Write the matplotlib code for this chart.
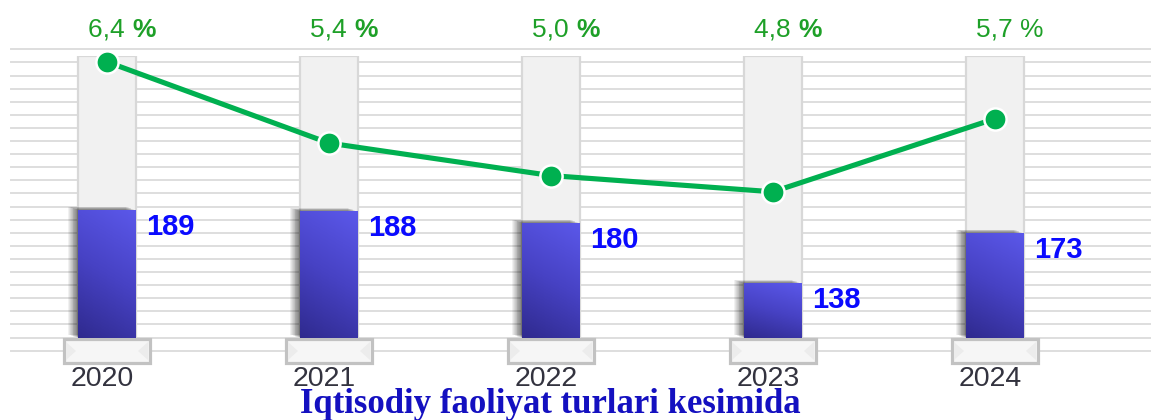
import numpy as np
import matplotlib
matplotlib.use("Agg")
import matplotlib.pyplot as plt
from matplotlib.colors import LinearSegmentedColormap
from matplotlib.patches import Rectangle
import matplotlib.transforms as mtransforms

# ---- data ----
years = ["2020", "2021", "2022", "2023", "2024"]
counts = [189, 188, 180, 138, 173]
growth = [6.4, 5.4, 5.0, 4.8, 5.7]
growth_labels = ["6,4", "5,4", "5,0", "4,8", "5,7"]
bold_pct = [True, True, True, True, False]
title = "Iqtisodiy faoliyat turlari kesimida"

W, H, DPI = 1151, 420, 100
fig = plt.figure(figsize=(W / DPI, H / DPI), dpi=DPI)
fig.patch.set_facecolor("white")

x = np.arange(len(years))
XL = (-0.482, 4.703)          # category axis range
px_per_unit = W / (XL[1] - XL[0])
bar_w = 58 / px_per_unit
ped_w = 86 / px_per_unit

sans = "Liberation Sans"
serif = "Liberation Serif"

# ---- background layer (layout in pixel units, y downwards) ----
ax_bg = fig.add_axes([0, 0, 1, 1])
ax_bg.set_xlim(*XL)
ax_bg.set_ylim(H, 0)
ax_bg.axis("off")

for k in range(24):
    ax_bg.axhline(49.3 + 13.1 * k, xmin=11 / W, xmax=1, color="#dedede",
                  lw=1.4, zorder=0)

# pedestals under each column
for xi in x:
    ax_bg.add_patch(Rectangle((xi - ped_w / 2, 339), ped_w, 24,
                              facecolor="#f6f6f6", edgecolor="#c2c2c2",
                              lw=2.3, zorder=5))
    # subtle bevel at both ends
    for side in (-1, 1):
        xe = xi + side * (ped_w / 2 - 2 / px_per_unit)
        xin = xi + side * (ped_w / 2 - 12 / px_per_unit)
        ax_bg.fill([xe, xin, xe], [342, 351, 360], color="#ececec",
                   lw=0, zorder=5)

for xi, yr in zip(x, years):
    ax_bg.text(xi - 5 / px_per_unit, 386, yr, ha="center", va="baseline",
               fontsize=20.5, color="#33333f", family=sans, zorder=6)

ax_bg.text(550 / px_per_unit + XL[0], 413, title, ha="center",
           va="baseline", fontsize=25, fontweight="bold",
           color="#1410c0", family=serif, zorder=6)

# ---- bar layer ----
base_px, top_px = 338, 56
scale = 1.44                 # pixels per count
ylo = 100
yhi = ylo + (base_px - top_px) / scale
ax_bar = fig.add_axes([0, (H - base_px) / H, 1, (base_px - top_px) / H])
ax_bar.set_xlim(*XL)
ax_bar.set_ylim(ylo, yhi)
ax_bar.axis("off")
ax_bar.patch.set_alpha(0)

# light full-height columns
ax_bar.bar(x, yhi - ylo, bottom=ylo, width=bar_w, color="#f1f1f1",
           edgecolor="#d8d8d8", linewidth=1.6, zorder=1)

# soft shadow on the left of each bar
for i in range(1, 12):
    off = mtransforms.offset_copy(ax_bar.transData, fig=fig,
                                  x=-i * 0.9, y=i * 0.3, units="dots")
    for xi, v in zip(x, counts):
        ax_bar.add_patch(Rectangle((xi - bar_w / 2, ylo), bar_w, v - ylo,
                                   transform=off, facecolor="black",
                                   alpha=0.055, lw=0, zorder=2))

cmap = LinearSegmentedColormap.from_list(
    "blue", ["#2f2a8e", "#4742c4", "#5b58ea"])
gy, gx = np.mgrid[0:1:200j, 0:1:50j]
grad = np.clip(0.78 * gy + 0.22 * gx + 0.0, 0, 1)

bars = ax_bar.bar(x, counts, width=bar_w, color="none", lw=0, zorder=3)
for b, xi, v in zip(bars, x, counts):
    im = ax_bar.imshow(grad, cmap=cmap, origin="lower", aspect="auto",
                       extent=(xi - bar_w / 2, xi + bar_w / 2, ylo, v),
                       zorder=3, vmin=0, vmax=1)
    im.set_clip_path(b)
    ax_bar.annotate(str(v), xy=(xi + bar_w / 2, v), xytext=(7, -2),
                    textcoords="offset points", ha="left", va="top",
                    fontsize=21, fontweight="bold", color="#0a0aff",
                    family=sans, zorder=6)
ax_bar.set_xlim(*XL)
ax_bar.set_ylim(ylo, yhi)

# ---- growth line layer ----
ax_ln = fig.add_axes([0, 0, 1, 1])
ax_ln.set_xlim(*XL)
ax_ln.set_ylim(1.99, 7.162)
ax_ln.axis("off")
ax_ln.patch.set_alpha(0)
ax_ln.plot(x, growth, color="#00b050", lw=3.7, marker="o", markersize=16,
           markerfacecolor="#00b050", markeredgecolor="white",
           markeredgewidth=1.8, zorder=7, solid_capstyle="round")

label_y = 1 - 30 / H
for xi, lab, bp in zip(x, growth_labels, bold_pct):
    t = ax_ln.text(xi + 3 / px_per_unit, label_y, lab + " ",
                   transform=mtransforms.blended_transform_factory(
                       ax_ln.transData, ax_ln.transAxes),
                   ha="center", va="center", fontsize=19,
                   color="#1ea028", family=sans)
    ax_ln.annotate("%", xy=(1, 0), xycoords=t, ha="left", va="bottom",
                   fontsize=19, color="#1ea028", family=sans,
                   fontweight="bold" if bp else "normal")

fig.savefig("out.png", dpi=DPI)
